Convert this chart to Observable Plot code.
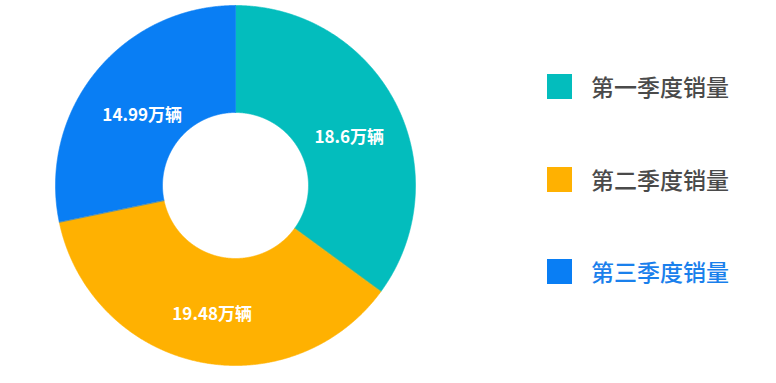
<!DOCTYPE html>
<html><head><meta charset="utf-8">
<script src="https://cdn.jsdelivr.net/npm/d3@7"></script>
<script src="https://cdn.jsdelivr.net/npm/@observablehq/plot@0.6"></script>
<style>
body{margin:0;background:#fff;font-family:"Noto Sans CJK SC",sans-serif;}
#wrap{position:relative;width:776px;height:383px;}
#legend{position:absolute;left:547px;top:74px;}
.item{display:flex;align-items:center;height:25px;margin-bottom:67.5px;}
.sw{width:25px;height:25px;margin-right:19px;flex:none;}
.lab{font-size:23px;color:#4a4a4a;line-height:25px;white-space:nowrap;font-weight:500;}
</style></head><body><div id="wrap"><div id="legend"></div></div>
<script>
const categories = ["第一季度销量", "第二季度销量", "第三季度销量"];
const values = [18.6, 19.48, 14.99];
const valueLabels = ["18.6万辆", "19.48万辆", "14.99万辆"];
const colors = ["#03BDBD", "#FFB101", "#097EF4"];
const legendTextColors = ["#4a4a4a", "#4a4a4a", "#1A80EC"];

const rows = categories.map((c, i) => ({category: c, value: values[i], label: valueLabels[i]}));
const arcs = d3.pie().sort(null).value(d => d.value)(rows);
const outer = 1, inner = 73 / 180, labelR = 0.69;

const pts = [];
arcs.forEach(a => {
  const n = Math.max(2, Math.ceil((a.endAngle - a.startAngle) / 0.005));
  for (let k = 0; k <= n; k++) {
    const t = a.startAngle + (a.endAngle - a.startAngle) * k / n;
    pts.push({category: a.data.category, x: outer * Math.sin(t), y: outer * Math.cos(t)});
  }
  for (let k = n; k >= 0; k--) {
    const t = a.startAngle + (a.endAngle - a.startAngle) * k / n;
    pts.push({category: a.data.category, x: inner * Math.sin(t), y: inner * Math.cos(t)});
  }
});
const mid = a => (a.startAngle + a.endAngle) / 2;

const chart = Plot.plot({
  width: 776,
  height: 383,
  margin: 0,
  style: {fontFamily: '"Noto Sans CJK SC", sans-serif', background: "transparent"},
  x: {domain: [-1, 1], range: [55, 415], axis: null},
  y: {domain: [-1, 1], range: [365, 5], axis: null},
  color: {domain: categories, range: colors},
  marks: [
    Plot.line(pts, {x: "x", y: "y", z: "category", fill: "category", stroke: "category", strokeWidth: 0.6, curve: "linear-closed"}),
    Plot.text(arcs, {
      x: a => labelR * Math.sin(mid(a)),
      y: a => labelR * Math.cos(mid(a)),
      text: a => a.data.label,
      fill: "white",
      fontSize: 17,
      fontWeight: "bold",
      dx: 3,
      dy: 8
    })
  ]
});
const wrap = document.getElementById("wrap");
wrap.insertBefore(chart, wrap.firstChild);
chart.style.position = "absolute";
chart.style.left = "0";
chart.style.top = "0";

const legend = document.getElementById("legend");
categories.forEach((c, i) => {
  const item = document.createElement("div");
  item.className = "item";
  const sw = document.createElement("div");
  sw.className = "sw";
  sw.style.background = colors[i];
  const lab = document.createElement("div");
  lab.className = "lab";
  lab.style.color = legendTextColors[i];
  lab.textContent = c;
  item.appendChild(sw);
  item.appendChild(lab);
  legend.appendChild(item);
});
</script></body></html>
